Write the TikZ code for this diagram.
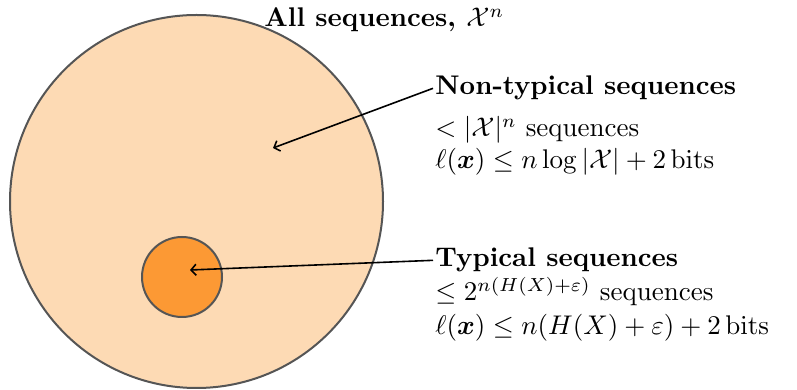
\documentclass[tikz,border=0pt]{standalone}
\usepackage{amsmath,amssymb}
\usetikzlibrary{arrows.meta,positioning}
\definecolor{Durazno}{RGB}{253,218,180}
\definecolor{Naranja}{RGB}{252,153,52}
\definecolor{Borde}{RGB}{85,85,85}

\begin{document}
\begin{tikzpicture}[x=1pt, y=1pt,
  conjunto/.style={
    circle, draw=Borde, line width=2pt, inner sep=0pt
  },
  texto/.style={scale=2.7, transform shape, inner sep=0.7pt, anchor=base west},
  titulo/.style={texto, font=\bfseries},
  detalle/.style={texto},
  flecha/.style={-{Straight Barb[length=5pt, width=11pt]}, line width=1.6pt}
]
  \useasboundingbox (0,0) rectangle (797,390);

  % --- Conjuntos ---
  \node[conjunto, fill=Durazno, minimum size=373pt] (todas) at (196.5,188.5) {};
  \node[conjunto, fill=Naranja, minimum size=80pt]  (tipicas) at (182,113) {};

  % --- Puntos de llegada ---
  \coordinate (pnotip) at (273,242);
  \coordinate (ptip)   at (190,120);

  % --- Titulo general ---
  \node[titulo] (titall) at (262,363) {All sequences, $\mathcal{X}^n$};

  % --- No tipicas ---
  \node[titulo] (notip) at (433,295) {Non-typical sequences};
  \node[detalle] (notipcard) at (433,253) {$<|\mathcal{X}|^n$ sequences};
  \node[detalle] (notiplong) at (433,221)
    {$\ell(\boldsymbol{x})\le n\log|\mathcal{X}|+2\,\mathrm{bits}$};

  % --- Tipicas ---
  \node[titulo] (tip) at (433,123) {Typical sequences};
  \node[detalle] (tipcard) at (433,89) {$\le 2^{n(H(X)+\varepsilon)}$ sequences};
  \node[detalle] (tiplong) at (433,55)
    {$\ell(\boldsymbol{x})\le n(H(X)+\varepsilon)+2\,\mathrm{bits}$};

  % --- Flechas ---
  \draw[flecha] (notip.west) -- (pnotip);
  \draw[flecha] (tip.west) -- (ptip);
\end{tikzpicture}
\end{document}
